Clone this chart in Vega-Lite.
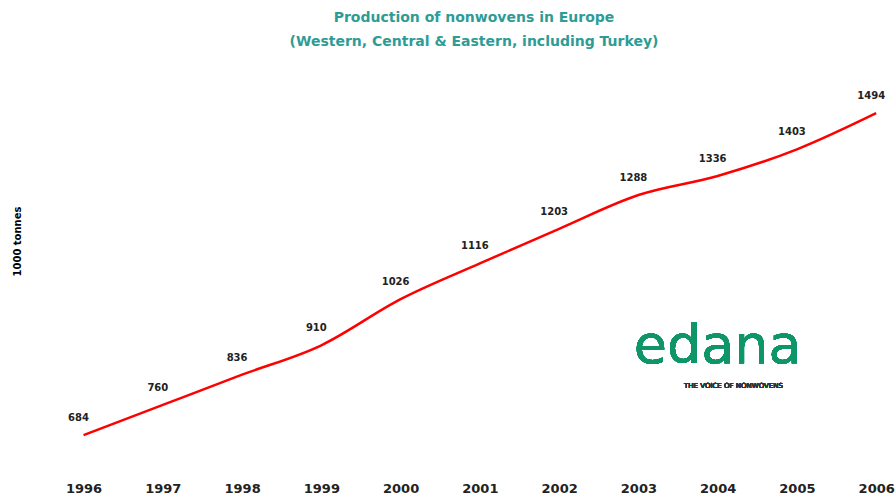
{
  "$schema": "https://vega.github.io/schema/vega-lite/v6.json",
  "width": 860,
  "height": 397.5,
  "autosize": {"type": "none"},
  "padding": {"left": 36, "top": 71, "right": 0, "bottom": 31.5},
  "background": "white",
  "config": {"view": {"stroke": null}, "font": "DejaVu Sans"},
  "title": {
    "text": ["Production of nonwovens in Europe", "(Western, Central & Eastern, including Turkey)"],
    "color": "#2e9c96",
    "font": "DejaVu Sans",
    "fontSize": 14,
    "fontWeight": "bold",
    "lineHeight": 24,
    "anchor": "middle",
    "dx": 8,
    "offset": 22
  },
  "data": {
    "values": [
      {"year": 1996, "value": 684},
      {"year": 1997, "value": 760},
      {"year": 1998, "value": 836},
      {"year": 1999, "value": 910},
      {"year": 2000, "value": 1026},
      {"year": 2001, "value": 1116},
      {"year": 2002, "value": 1203},
      {"year": 2003, "value": 1288},
      {"year": 2004, "value": 1336},
      {"year": 2005, "value": 1403},
      {"year": 2006, "value": 1494}
    ]
  },
  "encoding": {
    "x": {
      "field": "year",
      "type": "quantitative",
      "scale": {"domain": [1995.4, 2006.25], "nice": false, "zero": false},
      "axis": {
        "title": null,
        "grid": false,
        "domain": false,
        "ticks": false,
        "values": [1996, 1997, 1998, 1999, 2000, 2001, 2002, 2003, 2004, 2005, 2006],
        "format": "d",
        "labelFont": "DejaVu Sans",
        "labelFontSize": 13,
        "labelFontWeight": "bold",
        "labelColor": "#222222",
        "labelPadding": 14,
        "labelOverlap": false,
        "labelFlush": false
      }
    },
    "y": {
      "field": "value",
      "type": "quantitative",
      "scale": {"domain": [600, 1600], "nice": false, "zero": false},
      "axis": {
        "title": "1000 tonnes",
        "titleFont": "DejaVu Sans",
        "titleFontSize": 10,
        "titleFontWeight": "bold",
        "titleColor": "#000000",
        "titlePadding": 14,
        "titleY": 170,
        "labels": false,
        "ticks": false,
        "domain": false,
        "grid": false
      }
    }
  },
  "layer": [
    {
      "mark": {"type": "line", "color": "#ff0000", "strokeWidth": 2.5, "interpolate": "monotone"}
    },
    {
      "mark": {"type": "text", "dy": -17, "dx": -5, "font": "DejaVu Sans", "fontSize": 10, "fontWeight": "bold", "color": "#222222"},
      "encoding": {"text": {"field": "value", "type": "quantitative"}}
    },
    {
      "mark": {"type": "text", "text": "edana", "font": "DejaVu Sans", "fontSize": 54, "color": "#0f9668", "align": "center", "baseline": "alphabetic"},
      "encoding": {"x": {"datum": 2004.0}, "y": {"datum": 866}}
    },
    {
      "mark": {"type": "text", "text": "THE VOICE OF NONWOVENS", "font": "DejaVu Sans", "fontSize": 7, "color": "#333333", "align": "center", "baseline": "middle"},
      "encoding": {"x": {"datum": 2004.2}, "y": {"datum": 808}}
    }
  ]
}
